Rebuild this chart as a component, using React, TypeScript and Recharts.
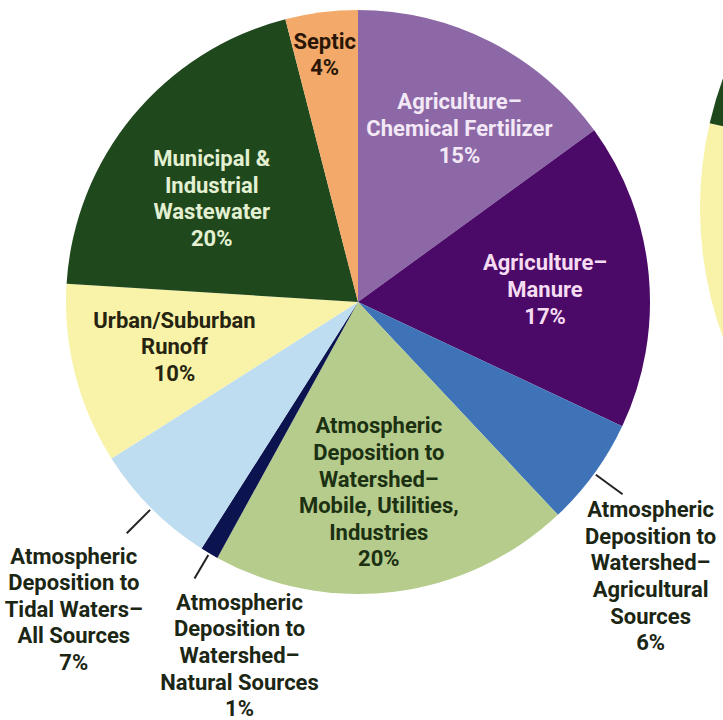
import { PieChart, Pie, Cell } from "recharts";

// nitrogen sources, clockwise from 12 o'clock
const SOURCES = [
  "Agriculture–Chemical Fertilizer",
  "Agriculture–Manure",
  "Atmospheric Deposition to Watershed–Agricultural Sources",
  "Atmospheric Deposition to Watershed–Mobile, Utilities, Industries",
  "Atmospheric Deposition to Watershed–Natural Sources",
  "Atmospheric Deposition to Tidal Waters–All Sources",
  "Urban/Suburban Runoff",
  "Municipal & Industrial Wastewater",
  "Septic",
];
const SHARES = [15, 17, 6, 20, 1, 7, 10, 20, 4];
const LABEL_LINES = [
  ["Agriculture–", "Chemical Fertilizer"],
  ["Agriculture–", "Manure"],
  ["Atmospheric", "Deposition to", "Watershed–", "Agricultural", "Sources"],
  ["Atmospheric", "Deposition to", "Watershed–", "Mobile, Utilities,", "Industries"],
  ["Atmospheric", "Deposition to", "Watershed–", "Natural Sources"],
  ["Atmospheric", "Deposition to", "Tidal Waters–", "All Sources"],
  ["Urban/Suburban", "Runoff"],
  ["Municipal &", "Industrial", "Wastewater"],
  ["Septic"],
];

// neighbouring chart, only its left edge shows
const SIDE_NAMES = ["Runoff", "Other", "Wastewater"];
const SIDE_SHARES = [30, 58, 12];

const COLORS = ["#8d68a6", "#4b0a68", "#3f73b8", "#b5cc8c", "#0c1450", "#bfddf1", "#f8f3a8", "#1f481c", "#f2a96a"];
const SIDE_COLORS = ["#f8f3a8", "#ffffff", "#1f481c"];
const TEXT_COLORS = ["#f3e8f6", "#f6dcf2", "#1c2614", "#1c3012", "#1c2614", "#1c2614", "#262410", "#e3f0d2", "#2a1606"];

// label placement: radius ratio, pixel nudge, leader line for outside labels
const LAYOUT = [
  { r: 0.69, dx: 10, dy: 6 },
  { r: 0.64, dx: 1, dy: 5 },
  { r: 1.12, dx: 28, dy: 82, line: true },
  { r: 0.65, dx: -3, dy: 2 },
  { r: 1.1, dx: 45, dy: 77, line: true },
  { r: 1.12, dx: -53, dy: 76, line: true },
  { r: 0.67, dx: 6, dy: -4 },
  { r: 0.61, dx: -9, dy: 10 },
  { r: 0.91, dx: 0, dy: 16 },
];

const data = SOURCES.map((name, i) => ({ name, value: SHARES[i] }));
const sideData = SIDE_NAMES.map((name, i) => ({ name, value: SIDE_SHARES[i] }));

const RADIAN = Math.PI / 180;
const LINE_H = 26.6;

const renderLabel = (props: any) => {
  const { cx, cy, midAngle, outerRadius, index } = props;
  const lay = LAYOUT[index];
  const cos = Math.cos(-midAngle * RADIAN);
  const sin = Math.sin(-midAngle * RADIAN);
  const px = cx + outerRadius * lay.r * cos;
  const py = cy + outerRadius * lay.r * sin;
  const lines = [...LABEL_LINES[index], `${SHARES[index]}%`];
  const bx = px + lay.dx;
  const by = py + lay.dy;
  const top = by - ((lines.length - 1) * LINE_H) / 2;
  return (
    <g key={`lbl-${index}`}>
      {lay.line && (
        <line
          x1={cx + (outerRadius + 2) * cos}
          y1={cy + (outerRadius + 2) * sin}
          x2={px}
          y2={py}
          stroke="#222"
          strokeWidth={2}
        />
      )}
      <text
        textAnchor="middle"
        fill={TEXT_COLORS[index]}
        fontFamily="Roboto, 'Liberation Sans', sans-serif"
        fontWeight={700}
        fontSize={22}
      >
        {lines.map((t, k) => (
          <tspan key={k} x={bx} y={top + k * LINE_H} dominantBaseline="central">
            {t}
          </tspan>
        ))}
      </text>
    </g>
  );
};

export default function App() {
  return (
    <div
      style={{
        position: "absolute",
        left: 0,
        top: 0,
        width: 723,
        height: 720,
        overflow: "hidden",
        background: "#fff",
      }}
    >
      <PieChart width={723} height={720} margin={{ top: 0, right: 0, bottom: 0, left: 0 }}>
        <Pie
          data={sideData}
          dataKey="value"
          nameKey="name"
          cx={1077}
          cy={208}
          outerRadius={377}
          startAngle={167}
          endAngle={527}
          stroke="none"
          isAnimationActive={false}
        >
          {sideData.map((_, i) => (
            <Cell key={i} fill={SIDE_COLORS[i]} />
          ))}
        </Pie>
        <Pie
          data={data}
          dataKey="value"
          nameKey="name"
          cx={358}
          cy={302}
          outerRadius={292}
          startAngle={90}
          endAngle={-270}
          stroke="none"
          labelLine={false}
          label={renderLabel}
          isAnimationActive={false}
        >
          {data.map((_, i) => (
            <Cell key={i} fill={COLORS[i]} />
          ))}
        </Pie>
      </PieChart>
    </div>
  );
}
